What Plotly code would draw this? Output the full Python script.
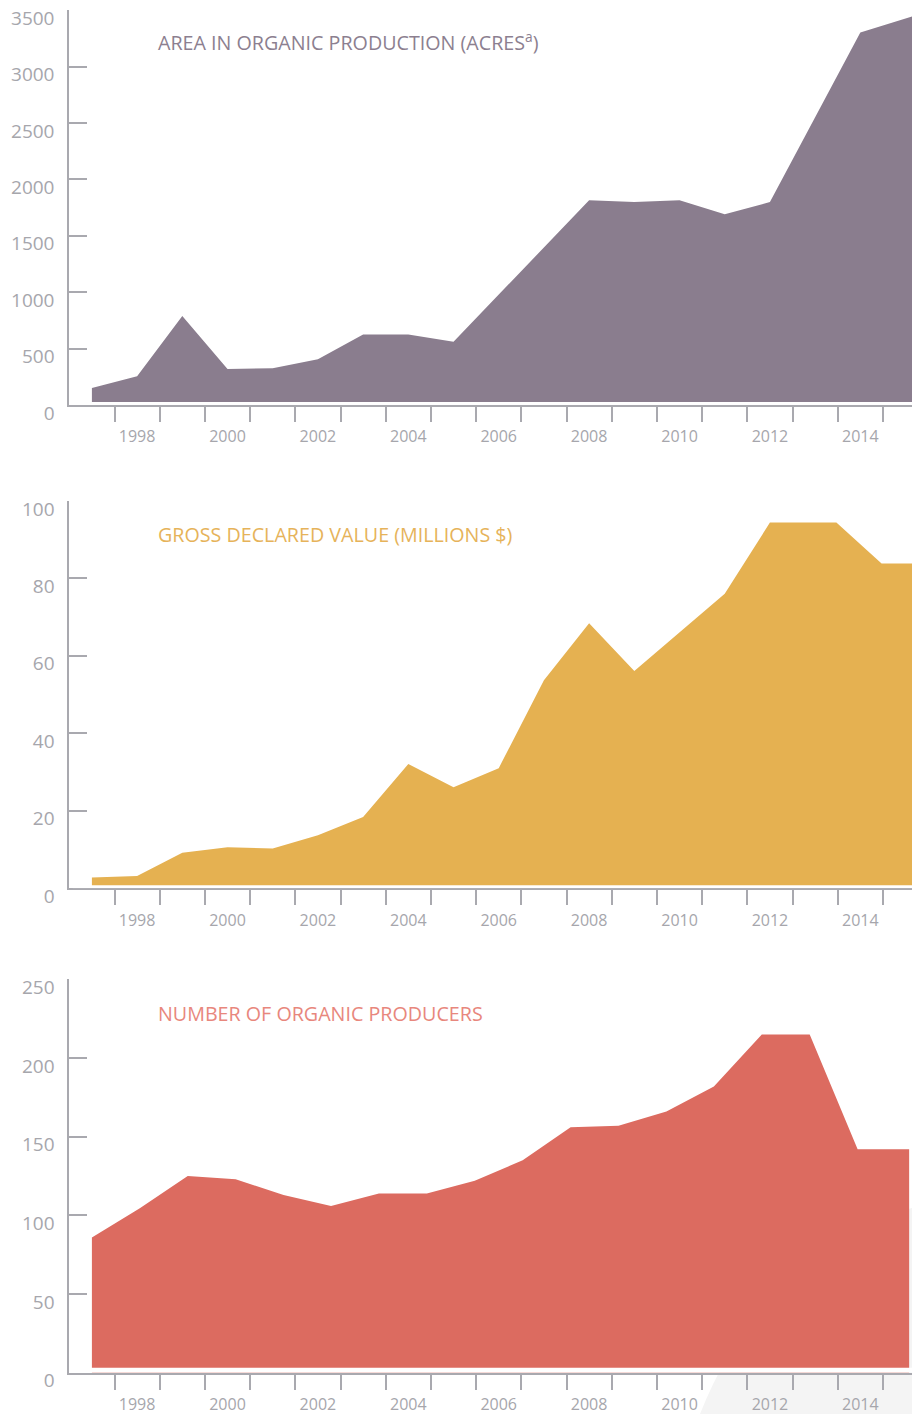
import plotly.graph_objects as go

# ---------------- data ----------------
area_years = [1997, 1998, 1999, 2000, 2001, 2002, 2003, 2004, 2005, 2006,
              2007, 2008, 2009, 2010, 2011, 2012, 2013, 2014, 2015.18]
area_acres = [150, 255, 790, 320, 325, 405, 626, 626, 561, 980,
              1395, 1814, 1799, 1814, 1690, 1799, 2550, 3302, 3449]

value_years = [1997, 1998, 1999, 2000, 2001, 2002, 2003, 2004, 2005, 2006,
               2007, 2008, 2009, 2010, 2011, 2012, 2013.47, 2014.47, 2015.15]
value_millions = [2.8, 3.2, 9.2, 10.6, 10.3, 13.7, 18.4, 32.1, 26.1, 31.0,
                  53.7, 68.4, 56.1, 66.0, 76.0, 94.4, 94.4, 83.8, 83.8]

producer_years = [1997.0, 1998.06, 1999.12, 2000.18, 2001.24, 2002.29, 2003.35,
                  2004.41, 2005.47, 2006.53, 2007.59, 2008.65, 2009.71, 2010.76,
                  2011.82, 2012.88, 2013.94, 2015.08]
producers = [86, 104.5, 125, 123, 113, 106, 114, 114, 122, 135, 156, 157,
             166, 182, 215, 215, 142, 142]

x_label_years = [1998, 2000, 2002, 2004, 2006, 2008, 2010, 2012, 2014]
x_tick_bounds = [1997.5, 1998.5, 1999.5, 2000.5, 2001.5, 2002.5, 2003.5, 2004.5,
                 2005.5, 2006.5, 2007.5, 2008.5, 2009.5, 2010.5, 2011.5, 2012.5,
                 2013.5, 2014.5]

area_ticks = [0, 500, 1000, 1500, 2000, 2500, 3000, 3500]
value_ticks = [0, 20, 40, 60, 80, 100]
producer_ticks = [0, 50, 100, 150, 200, 250]

titles = ["AREA IN ORGANIC PRODUCTION (ACRES<sup>a</sup>)",
          "GROSS DECLARED VALUE (MILLIONS $)",
          "NUMBER OF ORGANIC PRODUCERS"]

# ---------------- styling ----------------
PAGE_W, PAGE_H = 920, 1414
OFF = 8                      # default body margin of the html page
W, H = PAGE_W - OFF, PAGE_H - OFF
FONT = "Open Sans"
AXIS = "#A9A9AF"
LABEL = "#A6A6AC"
fills = ["#8A7D8E", "#E5B151", "#DC6B60"]
title_cols = ["#8C7F90", "#E6B35A", "#E8877D"]


def px_x(x):
    return (x - OFF) / W


def px_y(y):
    return 1 - (y - OFF) / H


# page-pixel geometry of each panel: (top px of max tick, bottom px = axis line)
panels = [(10, 405), (500.7, 888.3), (979.3, 1372.7)]
yranges = [3500, 100, 250]
gaps = [3, 3, 5]
title_px = [41.7, 535, 1013.3]
XRANGE = [1996.5, 2015.32]

series = [(area_years, area_acres, area_ticks),
          (value_years, value_millions, value_ticks),
          (producer_years, producers, producer_ticks)]

fig = go.Figure()
layout = dict(width=W, height=H, margin=dict(l=0, r=0, t=0, b=0, autoexpand=False),
              paper_bgcolor="white", plot_bgcolor="rgba(0,0,0,0)",
              showlegend=False, shapes=[], annotations=[])

for i, ((xs, ys, yt), (top, bot)) in enumerate(zip(series, panels)):
    n = "" if i == 0 else str(i + 1)
    fig.add_trace(go.Scatter(
        x=xs, y=ys, mode="lines", fill="tozeroy",
        fillcolor=fills[i], line=dict(width=0, color=fills[i]),
        xaxis="x" + n, yaxis="y" + n, hoverinfo="x+y"))
    layout["xaxis" + n] = dict(
        domain=[px_x(69.3), 1], range=XRANGE, anchor="y" + n, automargin=False,
        showgrid=False, zeroline=False, showline=True,
        linecolor=AXIS, linewidth=2,
        tickmode="array", tickvals=x_label_years,
        ticktext=[str(v) for v in x_label_years],
        ticks="", ticklabelstandoff=16,
        tickfont=dict(family=FONT, size=16, color=LABEL),
        minor=dict(tickmode="array", tickvals=x_tick_bounds, ticks="outside",
                   ticklen=15, tickwidth=2, tickcolor=AXIS, showgrid=False),
        fixedrange=True)
    layout["yaxis" + n] = dict(
        domain=[px_y(bot), px_y(top)], range=[0, yranges[i] * 1.0004],
        anchor="x" + n, automargin=False, showgrid=False, zeroline=False,
        showline=True, linecolor=AXIS, linewidth=2,
        tickmode="array", tickvals=yt, ticks="inside", ticklen=18,
        tickwidth=2, tickcolor=AXIS, ticklabelshift=8, ticklabelstandoff=9,
        ticklabeloverflow="allow",
        tickfont=dict(family=FONT, size=19, color=LABEL),
        fixedrange=True)
    # small white gap between the area and the baseline
    layout["shapes"].append(dict(
        type="rect", xref="x" + n + " domain", x0=0.004, x1=1,
        yref="y" + n, ysizemode="pixel", yanchor=0, y0=0, y1=gaps[i],
        fillcolor="white", line=dict(width=0), layer="above"))
    layout["annotations"].append(dict(
        text=titles[i], xref="paper", yref="paper",
        x=px_x(156), y=px_y(title_px[i]), xanchor="left", yanchor="middle",
        showarrow=False,
        font=dict(family=FONT, size=19.7, color=title_cols[i])))

# decorative light-grey swoosh at the bottom right
sx0, sy0 = px_x(700), px_y(1414)
cx, cy = px_x(760), px_y(1260)
ex, ey = px_x(920), px_y(1205)
layout["shapes"].insert(0, dict(
    type="path", xref="paper", yref="paper",
    path=f"M {sx0} {sy0} Q {cx} {cy} {ex} {ey} L {ex} {sy0} Z",
    fillcolor="#F4F4F4", line=dict(width=0), layer="below"))

fig.update_layout(**layout)
fig.write_html("out.html")
